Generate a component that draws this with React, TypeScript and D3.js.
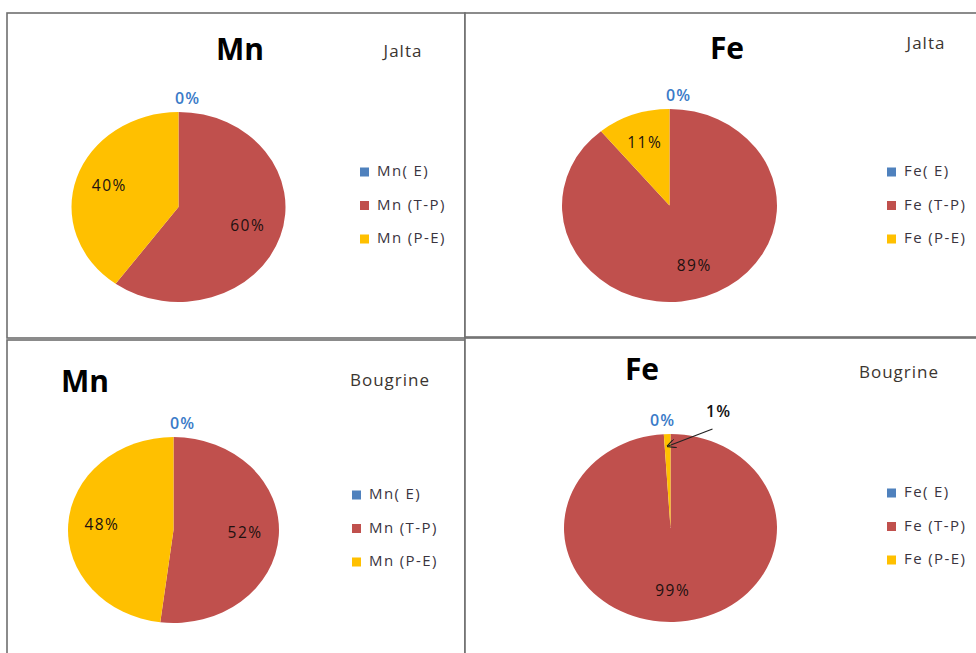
import React from "react";
import * as d3 from "d3";

// ---- data ----
const categories = ["E", "T-P", "P-E"];
const legendMn = ["Mn( E)", "Mn (T-P)", "Mn (P-E)"];
const legendFe = ["Fe( E)", "Fe (T-P)", "Fe (P-E)"];
const mnJalta = [0, 60, 40];
const feJalta = [0, 89, 11];
const mnBougrine = [0, 52, 48];
const feBougrine = [0, 99, 1];
const titles = ["Mn", "Fe", "Mn", "Fe"];
const sites = ["Jalta", "Jalta", "Bougrine", "Bougrine"];

const colors = ["#4F81BD", "#C0504D", "#FFC000"];
const FONT = "'Open Sans', 'DejaVu Sans', sans-serif";

type Layout = {
  border: { x: number; y: number; w: number; h: number };
  pie: { cx: number; cy: number; rx: number; ry: number };
  title: { x: number; y: number };
  site: { x: number; y: number };
  legend: { x: number; y: number };
};

const layouts: Layout[] = [
  { border: { x: 7, y: 13, w: 458, h: 325 }, pie: { cx: 178.5, cy: 207, rx: 107, ry: 95 }, title: { x: 240, y: 60 }, site: { x: 403, y: 57 }, legend: { x: 360, y: 172 } },
  { border: { x: 465, y: 13, w: 520, h: 324 }, pie: { cx: 669.5, cy: 205.5, rx: 107.5, ry: 96.5 }, title: { x: 727, y: 59 }, site: { x: 926, y: 49 }, legend: { x: 887, y: 172 } },
  { border: { x: 7, y: 340, w: 458, h: 330 }, pie: { cx: 173.5, cy: 530, rx: 105.5, ry: 93 }, title: { x: 85, y: 392 }, site: { x: 390, y: 386 }, legend: { x: 352, y: 495 } },
  { border: { x: 465, y: 338, w: 520, h: 330 }, pie: { cx: 670.5, cy: 528, rx: 106.5, ry: 94 }, title: { x: 642, y: 380 }, site: { x: 899, y: 378 }, legend: { x: 887, y: 493 } },
];

const datasets = [mnJalta, feJalta, mnBougrine, feBougrine];
const legends = [legendMn, legendFe, legendMn, legendFe];

function PiePanel({ values, legend, title, site, L }: { values: number[]; legend: string[]; title: string; site: string; L: Layout }) {
  const pieGen = d3.pie<number>().sort(null).value((d) => d).startAngle(0).endAngle(2 * Math.PI);
  const arcs = pieGen(values);
  const { cx, cy, rx, ry } = L.pie;
  const sy = ry / rx;
  const arcGen = d3.arc<d3.PieArcDatum<number>>().innerRadius(0).outerRadius(rx);
  const total = d3.sum(values);
  const pct = (v: number) => `${Math.round((v / total) * 100)}%`;
  const labelArc = d3.arc<d3.PieArcDatum<number>>().innerRadius(rx * 0.68).outerRadius(rx * 0.68);
  const tipArc = d3.arc<d3.PieArcDatum<number>>().innerRadius(rx * 0.87).outerRadius(rx * 0.87);

  const labels: React.ReactNode[] = [];
  const zeroSmallNext = arcs.some((a, i) => i > 0 && values[i] > 0 && values[i] / total < 0.03);
  arcs.forEach((a, i) => {
    const v = values[i];
    if (v === 0) {
      labels.push(
        <text key={"l" + i} x={cx + (zeroSmallNext ? -8 : 9)} y={cy - ry - 8} textAnchor="middle" fontFamily={FONT} fontSize={16} fontWeight={600} letterSpacing={1} fill="#3A7BC8">
          {pct(v)}
        </text>
      );
    } else if (v / total < 0.03) {
      const [tx, ty] = tipArc.centroid(a);
      const tipX = cx + tx;
      const tipY = cy + ty * sy;
      const lx = cx + 48;
      const ly = cy - ry - 17;
      labels.push(
        <g key={"l" + i}>
          <text x={lx} y={ly} textAnchor="middle" fontFamily={FONT} fontSize={16} fontWeight={600} letterSpacing={1} fill="#111">
            {pct(v)}
          </text>
          <line x1={lx - 6} y1={ly + 12} x2={tipX} y2={tipY} stroke="#222" strokeWidth={1.2} markerEnd="url(#arrowOpen)" />
        </g>
      );
    } else {
      const [x, y] = labelArc.centroid(a);
      labels.push(
        <text key={"l" + i} x={cx + x} y={cy + y * sy} textAnchor="middle" dominantBaseline="middle" fontFamily={FONT} fontSize={15.5} fontWeight={500} letterSpacing={1.5} fill="#201010">
          {pct(v)}
        </text>
      );
    }
  });

  return (
    <g>
      <rect x={L.border.x} y={L.border.y} width={L.border.w} height={L.border.h} fill="white" stroke="#6f6f6f" strokeWidth={1.6} />
      <text x={L.title.x} y={L.title.y} textAnchor="middle" fontFamily={FONT} fontSize={30} fontWeight={700} fill="#000">
        {title}
      </text>
      <text x={L.site.x} y={L.site.y} textAnchor="middle" fontFamily={FONT} fontSize={17} fontWeight={500} letterSpacing={1} fill="#3b3530">
        {site}
      </text>
      <g transform={`translate(${cx},${cy}) scale(1,${sy})`}>
        {arcs.map((a, i) => (
          <path key={categories[i]} d={arcGen(a) || ""} fill={colors[i]} />
        ))}
      </g>
      {labels}
      <g>
        {legend.map((lab, i) => (
          <g key={lab} transform={`translate(${L.legend.x},${L.legend.y + i * 33.5})`}>
            <rect x={0} y={-4.5} width={9} height={9} fill={colors[i]} />
            <text x={17} y={0} dominantBaseline="middle" fontFamily={FONT} fontSize={15} fontWeight={500} letterSpacing={1.4} fill="#3a3440">
              {lab}
            </text>
          </g>
        ))}
      </g>
    </g>
  );
}

export default function App() {
  return (
    <svg width={976} height={653} style={{ position: "absolute", left: 0, top: 0, background: "white" }}>
      <defs>
        <marker id="arrowOpen" viewBox="0 0 10 10" refX={9} refY={5} markerWidth={9} markerHeight={9} orient="auto" markerUnits="userSpaceOnUse">
          <path d="M0,0 L10,5 L0,10" fill="none" stroke="#222" strokeWidth={1.3} />
        </marker>
      </defs>
      <rect width={976} height={653} fill="white" />
      {datasets.map((vals, i) => (
        <PiePanel key={i} values={vals} legend={legends[i]} title={titles[i]} site={sites[i]} L={layouts[i]} />
      ))}
    </svg>
  );
}
